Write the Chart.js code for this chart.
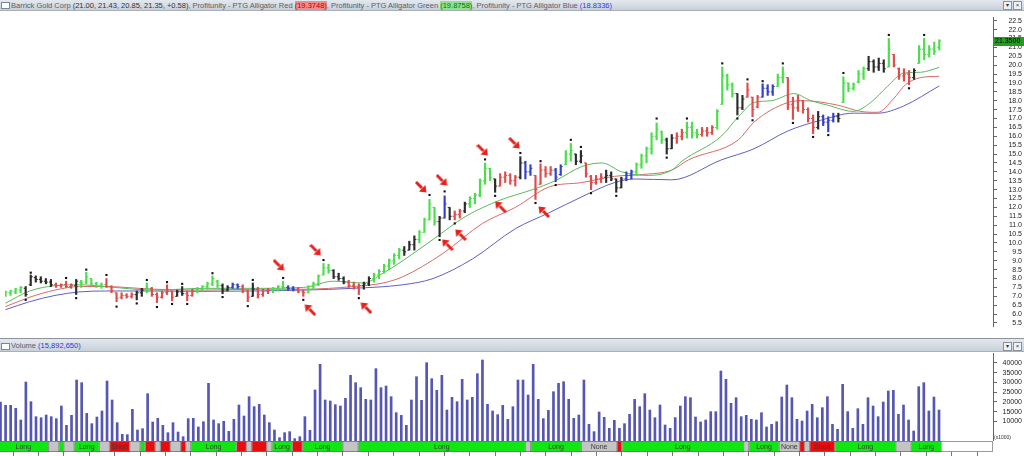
<!DOCTYPE html>
<html>
<head>
<meta charset="utf-8">
<script src="https://cdn.jsdelivr.net/npm/chart.js"></script>
<style>
body{margin:0;width:1024px;height:456px;overflow:hidden;background:#fff;position:relative;font-family:"Liberation Sans",Arial,sans-serif}
.tbar{position:absolute;left:0;width:1024px;box-sizing:border-box;background:linear-gradient(#e4e9ef,#c8d0da);border-bottom:1px solid #a7afb9;color:#59606a;font-size:7.5px;white-space:nowrap;padding-left:11px}
.tbar .cb{position:absolute;left:1px;width:7px;height:5px;border:1px solid #7d8590;background:#fff}
.tbar .dk{color:#333}
.tbar .rd{background:#f28b8b;color:#b00}
.tbar .gr{background:#8fe08f;color:#070}
.tbar .bl{color:#2a3adb}
.btn{position:absolute;width:7px;height:7px;border:1px solid #8a929c;background:#eef1f4;font-size:6px;line-height:7px;text-align:center;color:#333}
canvas{position:absolute;left:0}
</style>
</head>
<body>
<div class="tbar" style="top:0;height:11px;line-height:11px"><span class="cb" style="top:2px"></span>Barrick Gold Corp <span class="dk">(21.00, 21.43, 20.85, 21.35, +0.58)</span>, Profitunity - PTG Alligator Red <span class="rd">(19.3748)</span>, Profitunity - PTG Alligator Green <span class="gr">(19.8758)</span>, Profitunity - PTG Alligator Blue <span class="bl">(18.8336)</span><span class="btn" style="top:1px;left:1003px">&#9662;</span><span class="btn" style="top:1px;left:1013px">&#215;</span></div>
<canvas id="price" width="1024" height="319" style="top:12px"></canvas>
<div class="tbar" style="top:338px;height:14px;line-height:14px;border-top:1px solid #8c939c"><span class="cb" style="top:4px"></span>Volume <span class="bl">(15,892,650)</span><span class="btn" style="top:3px;left:1003px">&#9662;</span><span class="btn" style="top:3px;left:1013px">&#215;</span></div>
<canvas id="vol" width="1024" height="88" style="top:353px"></canvas>
<canvas id="strip" width="1024" height="15" style="top:441px"></canvas>
<script>
// daily bars, oldest first
var low = [
 7.00,7.05,7.15,7.20,7.00,7.60,7.80,7.75,7.70,7.55,
 7.50,7.50,7.50,7.45,7.10,7.50,7.70,7.60,7.50,7.45,
 7.50,7.20,6.70,6.85,6.90,6.90,6.80,7.00,7.20,7.00,
 6.65,6.90,7.10,6.75,7.00,7.05,6.75,7.00,7.20,7.30,
 7.40,7.60,7.50,7.15,7.30,7.45,7.45,7.20,6.70,7.00,
 6.90,7.00,7.15,7.20,7.30,7.35,7.35,7.30,7.20,7.00,
 7.20,7.40,7.60,8.20,8.30,8.00,7.90,7.70,7.50,7.40,
 7.10,7.40,7.60,7.80,8.00,8.30,8.50,8.80,9.10,9.30,
 9.60,9.60,10.00,10.60,11.30,11.00,10.35,11.40,11.30,11.30,
 11.40,11.70,12.00,12.20,12.60,13.30,13.50,12.85,13.20,13.40,
 13.30,13.20,13.60,13.60,13.80,12.45,13.30,13.70,13.80,13.45,
 13.80,14.40,14.60,14.40,14.50,13.70,13.00,13.30,13.40,13.40,
 13.50,12.85,13.10,13.50,13.60,13.80,14.20,14.50,15.00,15.80,
 15.60,15.00,15.30,15.60,15.80,15.90,15.90,15.90,16.00,16.00,
 16.10,16.40,17.80,18.60,18.20,17.20,17.50,18.20,17.10,17.60,
 18.20,18.30,18.30,18.80,19.00,17.50,16.95,17.40,17.30,16.80,
 16.15,16.40,16.60,16.25,16.80,16.80,17.90,18.50,18.60,19.00,
 19.20,19.70,19.60,19.70,19.60,19.90,19.90,19.20,19.10,18.90,
 19.20,20.10,20.30,20.45,20.60,20.85];
var high = [
 7.30,7.35,7.45,7.55,7.55,8.20,8.15,8.10,8.00,7.95,
 7.75,7.70,7.85,7.70,7.95,7.90,8.35,8.00,7.80,7.75,
 8.00,7.60,7.20,7.20,7.15,7.20,7.30,7.45,7.75,7.50,
 7.20,7.30,7.65,7.30,7.35,7.55,7.30,7.40,7.50,7.60,
 7.80,8.15,7.90,7.70,7.60,7.75,7.70,7.65,7.35,7.75,
 7.50,7.40,7.45,7.50,7.60,7.85,7.60,7.55,7.50,7.35,
 7.60,7.80,8.20,8.85,8.80,8.50,8.30,8.10,7.90,7.80,
 7.70,7.80,8.10,8.30,8.50,8.80,9.10,9.40,9.70,9.80,
 10.10,10.40,10.70,11.40,12.45,12.00,11.50,12.65,12.00,11.80,
 11.90,12.30,12.60,12.80,13.60,14.50,14.20,13.60,13.90,14.00,
 13.90,13.80,14.85,14.60,14.40,13.80,14.45,14.30,14.30,14.20,
 14.40,15.20,15.60,15.00,15.20,14.50,13.80,13.80,13.90,14.10,
 14.00,13.60,13.70,14.00,14.10,14.50,15.00,15.40,16.20,16.75,
 16.30,15.90,16.10,16.20,16.40,16.80,16.80,16.40,16.50,16.50,
 16.60,17.50,19.90,19.50,19.00,18.40,18.30,19.00,18.20,18.30,
 18.95,18.90,18.90,19.50,19.90,19.30,18.20,18.30,18.00,17.60,
 17.20,17.40,17.20,17.10,17.30,17.30,19.35,19.00,19.00,19.70,
 19.90,20.50,20.30,20.40,20.30,21.50,20.60,19.85,19.80,19.70,
 19.80,21.10,21.50,21.10,21.30,21.43];
var open = [
 7.05,7.20,7.25,7.35,7.45,7.65,8.05,7.95,7.85,7.80,
 7.65,7.60,7.65,7.55,7.60,7.80,7.80,8.00,7.70,7.60,
 7.65,7.55,7.20,6.95,7.05,7.00,7.10,7.20,7.35,7.45,
 7.10,6.95,7.20,7.30,7.00,7.25,7.15,7.05,7.30,7.40,
 7.55,7.70,7.85,7.60,7.35,7.50,7.65,7.55,7.30,7.00,
 7.40,7.10,7.30,7.35,7.45,7.55,7.50,7.45,7.40,7.25,
 7.20,7.55,7.70,8.20,8.60,8.45,8.10,8.00,7.80,7.60,
 7.50,7.60,7.70,8.00,8.20,8.40,8.70,9.00,9.30,9.60,
 9.60,9.90,10.20,10.60,11.30,12.00,11.20,11.40,12.00,11.50,
 11.60,11.80,12.20,12.50,12.70,13.50,14.20,13.60,13.20,13.70,
 13.80,13.50,13.70,14.50,14.00,13.80,13.30,14.10,13.90,14.10,
 13.85,14.40,15.00,15.00,14.60,14.50,13.75,13.40,13.60,13.70,
 13.80,13.60,13.10,13.60,13.80,14.00,14.40,14.90,15.30,16.00,
 16.25,15.80,15.30,15.90,16.00,16.20,16.50,16.20,16.10,16.30,
 16.20,16.50,17.80,19.40,18.90,18.40,17.60,18.20,18.20,17.65,
 18.20,18.70,18.50,18.80,19.30,19.30,17.80,17.60,18.00,17.50,
 17.00,16.50,17.10,16.80,16.90,17.10,17.90,19.00,18.70,19.05,
 19.50,19.80,20.20,19.90,20.10,19.90,20.60,19.80,19.40,19.50,
 19.30,20.10,20.90,20.60,20.90,21.00];
var close = [
 7.25,7.30,7.40,7.50,7.10,8.10,7.95,7.85,7.80,7.65,
 7.60,7.65,7.55,7.60,7.85,7.75,8.10,7.70,7.60,7.65,
 7.55,7.30,6.90,7.05,7.00,7.10,7.20,7.35,7.45,7.10,
 6.95,7.20,7.30,6.95,7.25,7.15,7.05,7.30,7.40,7.55,
 7.70,8.00,7.60,7.35,7.50,7.65,7.55,7.30,6.95,7.40,
 7.10,7.30,7.35,7.45,7.55,7.50,7.45,7.40,7.25,7.20,
 7.55,7.70,8.15,8.60,8.45,8.10,8.00,7.80,7.60,7.50,
 7.60,7.70,8.00,8.20,8.40,8.70,9.00,9.30,9.60,9.50,
 9.90,10.20,10.60,11.30,12.20,11.20,11.40,12.20,11.50,11.60,
 11.80,12.20,12.50,12.70,13.50,14.20,13.70,13.20,13.70,13.80,
 13.50,13.70,14.50,14.00,14.20,13.00,14.10,13.90,14.10,13.70,
 14.30,15.00,15.20,14.60,14.90,13.90,13.40,13.60,13.70,13.80,
 13.60,13.10,13.60,13.80,14.00,14.40,14.90,15.30,16.00,16.40,
 15.80,15.30,15.90,16.00,16.20,16.50,16.20,16.10,16.30,16.20,
 16.50,17.40,19.40,18.90,18.40,17.60,18.10,18.60,17.50,18.20,
 18.70,18.50,18.80,19.30,19.50,17.80,17.60,18.00,17.50,17.00,
 16.50,17.10,16.80,16.90,17.10,17.00,19.00,18.70,18.90,19.50,
 19.80,20.20,19.90,20.10,19.80,20.90,20.00,19.40,19.50,19.30,
 19.70,20.90,20.60,20.90,20.77,21.35];
// profitunity bar zone: g green, r red (squat/fade), k black, b blue
var zones =
 'ggggkkkkkk' + 'rrrrkggggg' + 'rrrrrrkkgr' + 'rrrrkkrrgg' + 'gggkkbbrrk' +
 'rrrgggbbrr' + 'gggggkkkrr' + 'rkkggggggk' + 'kkggggkbkr' + 'rkgggggkrr' +
 'rrkbbrrrrb' + 'bggkkrrrrk' + 'kkkbbggggg' + 'gkkrrgggrr' + 'rggggkkrrr' +
 'bbbggrrrrr' + 'rkbbbkgggg' + 'gkkkkgrrrr' + 'kggggg';
// volume, x1000
var volume = [
 20000,18290,18290,16750,10770,30250,20170,12480,11960,13330,
 12480,11450,17940,8030,13160,31270,29910,14180,8890,12300,
 15380,30760,21020,9400,3420,3250,16240,5640,6320,24270,
 9740,11620,8030,4270,9400,4610,2220,11450,11620,7180,
 9910,29570,10770,8890,10080,4960,11110,18460,12820,22730,
 17600,18800,13330,9400,5640,1710,4270,4790,1200,2220,
 12480,5470,26150,39310,21020,20510,18630,17940,21880,33670,
 29910,27340,21360,21020,37090,27340,28200,22730,14530,13160,
 8030,21020,32980,20850,40160,31960,25980,33670,15890,22390,
 20170,31620,21020,22390,34520,41530,18800,15380,13500,18290,
 11110,17600,31270,31270,23580,39310,21360,11450,15720,25290,
 29570,30420,21360,11620,13330,31270,8550,4790,14870,12130,
 6490,10600,6490,8890,13670,21360,17600,24270,15890,11960,
 18460,8200,6490,12000,17940,22730,22220,12300,9740,10770,
 15040,15040,35890,31620,19310,22220,12480,13160,11110,10770,
 14530,7180,8550,9910,22560,28710,22220,11110,10250,15380,
 18800,11960,17090,22730,8550,5980,29050,15040,6490,16580,
 8550,22220,17940,12480,20000,25640,25980,13670,18460,10770,
 5130,27860,29910,15380,22560,15890];
// alligator lines [bar, price]
var jaw = [[0,6.25],[4.8,6.70],[9.8,7.05],[14.7,7.25],[19.6,7.30],[29.5,7.30],[39.3,7.28],[49.2,7.30],[59,7.35],[68.9,7.45],[78.7,7.65],[84.7,8.0],[92.5,9.1],[101,10.8],[107.7,11.7],[114.2,12.6],[120.7,13.4],[124.7,13.6],[132,13.55],[141.8,14.67],[148.3,15.3],[155,16.3],[161.5,16.9],[168,17.3],[172.8,17.3],[177.9,17.7],[185,18.8336]];
var teeth = [[0,6.42],[4.8,6.95],[9.8,7.35],[14.7,7.55],[19.6,7.55],[29.5,7.40],[39.3,7.35],[49.2,7.40],[59,7.40],[68.9,7.55],[74.8,7.75],[78.7,8.1],[86.6,9.4],[94.5,11.1],[101,12.0],[107.7,13.15],[114.2,13.4],[120.7,13.75],[126.2,13.85],[132,14.1],[135.3,14.67],[145.2,15.8],[148.3,16.8],[155,17.9],[158.2,18.0],[164.9,17.75],[169.4,17.4],[172.8,17.35],[175.9,18.1],[178.3,18.9],[181.3,19.3],[185,19.3748]];
var lips = [[0,6.62],[4.8,7.30],[9.8,7.60],[14.7,7.65],[19.6,7.55],[29.5,7.35],[39.3,7.45],[49.2,7.45],[59,7.50],[65,7.85],[70.9,7.75],[74.8,8.3],[78.7,9.0],[84.7,10.2],[91.2,11.5],[97.9,12.4],[104.4,13.0],[108.9,13.5],[114.2,14.3],[118.2,14.5],[122.1,14.0],[127.4,13.8],[132,14.1],[134,14.6],[141.8,16.0],[145.2,17.1],[148.3,17.9],[151.7,18.0],[156.2,18.4],[159.6,18.0],[162.9,17.75],[168,17.4],[171.4,17.9],[174.7,18.8],[178,19.56],[181.3,19.6],[185,19.8758]];
// fractals [bar, price]
var upFractals = [[5,8.33],[12,8.03],[16,8.5],[20,8.2],[28,7.92],[32,7.8],[35,7.7],[41,8.3],[49,7.92],[55,8.03],[63,9.04],[84,12.7],[87,12.9],[95,14.7],[102,15.06],[106,14.6],[112,15.8],[114,15.4],[129,17.0],[135,17.0],[142,20.1],[147,19.2],[150,19.1],[154,20.1],[166,19.56],[175,21.7],[182,21.7]];
var downFractals = [[4,6.8],[14,6.9],[22,6.42],[26,6.6],[30,6.4],[33,6.57],[36,6.57],[43,6.96],[48,6.45],[59,6.8],[70,6.9],[86,10.17],[89,11.1],[97,12.65],[105,12.25],[109,13.26],[116,12.8],[121,12.65],[131,14.8],[145,17.0],[148,16.9],[156,16.75],[160,15.96],[163,16.07],[179,18.7]];
// hand drawn arrows [bar, price]
var arrowsAbove = [[54.1,8.76],[61.4,9.61],[82.3,13.15],[86.4,13.54],[94.5,15.23],[100.8,15.62]];
var arrowsBelow = [[60.4,6.23],[71.5,6.34],[87.6,9.89],[90.2,10.45],[98.1,12.02],[106.7,11.74]];
// trade state strip [first bar, last bar, state]
var states = [[0,9,'L'],[10,11,'N'],[12,12,'L'],[13,14,'N'],[15,19,'L'],[20,21,'N'],[22,25,'S'],[26,27,'N'],[28,28,'L'],[29,30,'S'],[31,31,'N'],[32,33,'S'],[34,35,'N'],[36,36,'S'],[37,37,'N'],[38,46,'L'],[47,48,'S'],[49,49,'N'],[50,52,'S'],[53,53,'N'],[54,57,'L'],[58,59,'S'],[60,67,'L'],[68,70,'N'],[71,103,'L'],[104,104,'N'],[105,114,'L'],[115,121,'N'],[122,122,'S'],[123,146,'L'],[147,147,'N'],[148,153,'L'],[154,157,'N'],[158,158,'S'],[159,159,'N'],[160,164,'S'],[165,176,'L'],[177,179,'N'],[180,185,'L']];
var priceTicks = [5.5,6.0,6.5,7.0,7.5,8.0,8.5,9.0,9.5,10.0,10.5,11.0,11.5,12.0,12.5,13.0,13.5,14.0,14.5,15.0,15.5,16.0,16.5,17.0,17.5,18.0,18.5,19.0,19.5,20.0,20.5,21.0,21.5,22.0,22.5];
var volTicks = [10000,15000,20000,25000,30000,35000,40000];
var lastClose = 21.35;

var XMIN = -0.1, XMAX = 195.64;
var zoneColor = {g:'#4ade4a', r:'#e04b4b', k:'#2c2c2c', b:'#3340c8'};
var barColors = zones.split('').map(function(z){ return zoneColor[z]; });
var stateColor = {L:'#12e612', S:'#e80c0c', N:'#c4c4c4'};
var stateText = {L:'Long', S:'Short', N:'None'};
var axisFont = {family:'Liberation Sans', size:7, lineHeight:'1px'};

function pts(a){ return a.map(function(p){ return {x:p[0], y:p[1]}; }); }

// right axis of fixed width, no extra vertical padding
function fitRight(s){ s.width = 29; s.paddingTop = 0; s.paddingBottom = 0; }

// make the canvas top edge read topVal and its bottom edge botVal, whatever the plot area is
function pinY(chart, topVal, botVal){
  var a = chart.chartArea, H = chart.height, span = topVal - botVal, y = chart.options.scales.y;
  y.max = topVal - span * a.top / H;
  y.min = topVal - span * a.bottom / H;
  chart.update('none');
}

function makeArrow(){
  var c = document.createElement('canvas'); c.width = 12; c.height = 12;
  var g = c.getContext('2d');
  g.strokeStyle = '#e5231e'; g.fillStyle = '#e5231e'; g.lineWidth = 3;
  g.beginPath(); g.moveTo(1,1); g.lineTo(7,7); g.stroke();
  g.beginPath(); g.moveTo(11.5,11.5); g.lineTo(4,10.5); g.lineTo(10.5,4); g.closePath(); g.fill();
  return c;
}
var arrowImg = makeArrow();

var priceBox = {
  id:'priceBox',
  afterDraw: function(chart){
    var ctx = chart.ctx, y = chart.scales.y.getPixelForValue(lastClose);
    ctx.save();
    ctx.fillStyle = '#1f9e1f';
    ctx.fillRect(993, Math.round(y) - 4, 31, 9);
    ctx.fillStyle = '#000';
    ctx.font = '7px "Liberation Sans"';
    ctx.textBaseline = 'middle';
    ctx.fillText(lastClose.toFixed(4), 995, Math.round(y) + 0.5);
    ctx.restore();
  }
};

function xLinear(){ return {type:'linear', min:XMIN, max:XMAX, offset:false, grid:{offset:false}, display:false}; }

var priceChart = new Chart(document.getElementById('price'), {
  type: 'bar',
  data: { datasets: [
    {type:'scatter', data: pts(upFractals), pointStyle:'rect', pointRadius:1.5, pointBackgroundColor:'#111', pointBorderWidth:0, order:0},
    {type:'scatter', data: pts(downFractals), pointStyle:'rect', pointRadius:1.5, pointBackgroundColor:'#111', pointBorderWidth:0, order:0},
    {type:'scatter', data: pts(arrowsAbove), pointStyle: arrowImg, pointRotation:0, order:0},
    {type:'scatter', data: pts(arrowsBelow), pointStyle: arrowImg, pointRotation:180, order:0},
    {type:'scatter', data: open.map(function(v,i){ return {x:i, y:v}; }), pointStyle:'dash', pointRadius:2, pointRotation:180, pointBorderColor: barColors, pointBorderWidth:1, order:1},
    {type:'scatter', data: close.map(function(v,i){ return {x:i, y:v}; }), pointStyle:'dash', pointRadius:2, pointRotation:0, pointBorderColor: barColors, pointBorderWidth:1, order:1},
    {type:'bar', data: high.map(function(h,i){ return {x:i, y:[low[i], h]}; }), backgroundColor: barColors, barThickness:1.5, order:2},
    {type:'line', data: pts(lips), borderColor:'#5cb85c', borderWidth:1, pointRadius:0, cubicInterpolationMode:'monotone', order:3},
    {type:'line', data: pts(teeth), borderColor:'#d86a6a', borderWidth:1, pointRadius:0, cubicInterpolationMode:'monotone', order:4},
    {type:'line', data: pts(jaw), borderColor:'#5f5fc8', borderWidth:1, pointRadius:0, cubicInterpolationMode:'monotone', order:5}
  ]},
  options: {
    responsive:false, maintainAspectRatio:false, animation:false, events:[],
    layout:{padding:{left:0, right:2, top:0, bottom:0}},
    plugins:{legend:{display:false}, tooltip:{enabled:false}},
    scales:{
      x: xLinear(),
      y:{position:'right', min:5.05, max:22.99,
         afterBuildTicks: function(s){ s.ticks = priceTicks.map(function(v){ return {value:v}; }); },
         afterFit: fitRight,
         ticks:{color:'#222', font:axisFont, padding:2, crossAlign:'far', callback:function(v){ return Number(v).toFixed(1); }},
         grid:{drawOnChartArea:false, tickLength:4, color:'#666'},
         border:{color:'#666'}}
    }
  },
  plugins:[priceBox]
});
pinY(priceChart, 22.99, 5.05);

var volNote = {
  id:'volNote',
  afterDraw: function(chart){
    var ctx = chart.ctx;
    ctx.save();
    ctx.fillStyle = '#333';
    ctx.font = '5px "Liberation Sans"';
    ctx.fillText('(x1000)', 994, 86);
    ctx.restore();
  }
};

var volChart = new Chart(document.getElementById('vol'), {
  type:'bar',
  data:{ datasets:[
    {data: volume.map(function(v,i){ return {x:i, y:v}; }), backgroundColor:'#5656b4', barThickness:2}
  ]},
  options:{
    responsive:false, maintainAspectRatio:false, animation:false, events:[],
    layout:{padding:{left:0, right:2, top:0, bottom:0}},
    plugins:{legend:{display:false}, tooltip:{enabled:false}},
    scales:{
      x: xLinear(),
      y:{position:'right', min:0, max:45126,
         afterBuildTicks: function(s){ s.ticks = volTicks.map(function(v){ return {value:v}; }); },
         afterFit: fitRight,
         ticks:{color:'#222', font:axisFont, padding:2, crossAlign:'far', callback:function(v){ return String(v); }},
         grid:{drawOnChartArea:false, tickLength:4, color:'#666'},
         border:{color:'#666'}}
    }
  },
  plugins:[volNote]
});
pinY(volChart, 45126, 0);

var stripLabels = {
  id:'stripLabels',
  beforeDatasetsDraw: function(chart){
    var a = chart.chartArea, ctx = chart.ctx;
    ctx.save();
    ctx.strokeStyle = '#9a9a9a';
    ctx.strokeRect(a.left + 0.5, a.top + 0.5, a.right - a.left - 1, a.bottom - a.top - 1);
    ctx.restore();
  },
  afterDatasetsDraw: function(chart){
    var ctx = chart.ctx, meta = chart.getDatasetMeta(0);
    ctx.save();
    ctx.font = '7px "Liberation Sans"';
    ctx.fillStyle = '#3a3a3a';
    ctx.textAlign = 'center';
    ctx.textBaseline = 'middle';
    meta.data.forEach(function(el, i){
      var w = Math.abs(el.x - el.base);
      if (w >= 19) ctx.fillText(stateText[states[i][2]], (el.x + el.base) / 2, el.y + 0.5);
    });
    ctx.restore();
  }
};

var weekTicks = [];
for (var w = 2.5; w < XMAX; w += 5) weekTicks.push(w);

new Chart(document.getElementById('strip'), {
  type:'bar',
  data:{ labels:['s'], datasets:[
    {data: states.map(function(s){ return {y:'s', x:[s[0] - 0.5, s[1] + 0.5]}; }),
     backgroundColor: states.map(function(s){ return stateColor[s[2]]; }),
     borderColor:'rgba(60,60,60,0.45)', borderWidth:1, borderSkipped:false,
     barPercentage:1, categoryPercentage:1, grouped:false}
  ]},
  options:{
    indexAxis:'y', responsive:false, maintainAspectRatio:false, animation:false, events:[],
    layout:{padding:{left:0, right:2, top:0, bottom:0}},
    plugins:{legend:{display:false}, tooltip:{enabled:false}},
    scales:{
      x:{type:'linear', min:XMIN, max:XMAX, position:'bottom',
         afterBuildTicks: function(s){ s.ticks = weekTicks.map(function(v){ return {value:v}; }); },
         afterFit: function(s){ s.height = 4; },
         ticks:{display:false},
         grid:{drawOnChartArea:false, tickLength:4, color:'#777'},
         border:{display:false}},
      y:{type:'category', position:'right', labels:['s'],
         afterFit: function(s){ s.width = 29; },
         ticks:{display:false}, grid:{display:false}, border:{display:false}}
    }
  },
  plugins:[stripLabels]
});
</script>
</body>
</html>
